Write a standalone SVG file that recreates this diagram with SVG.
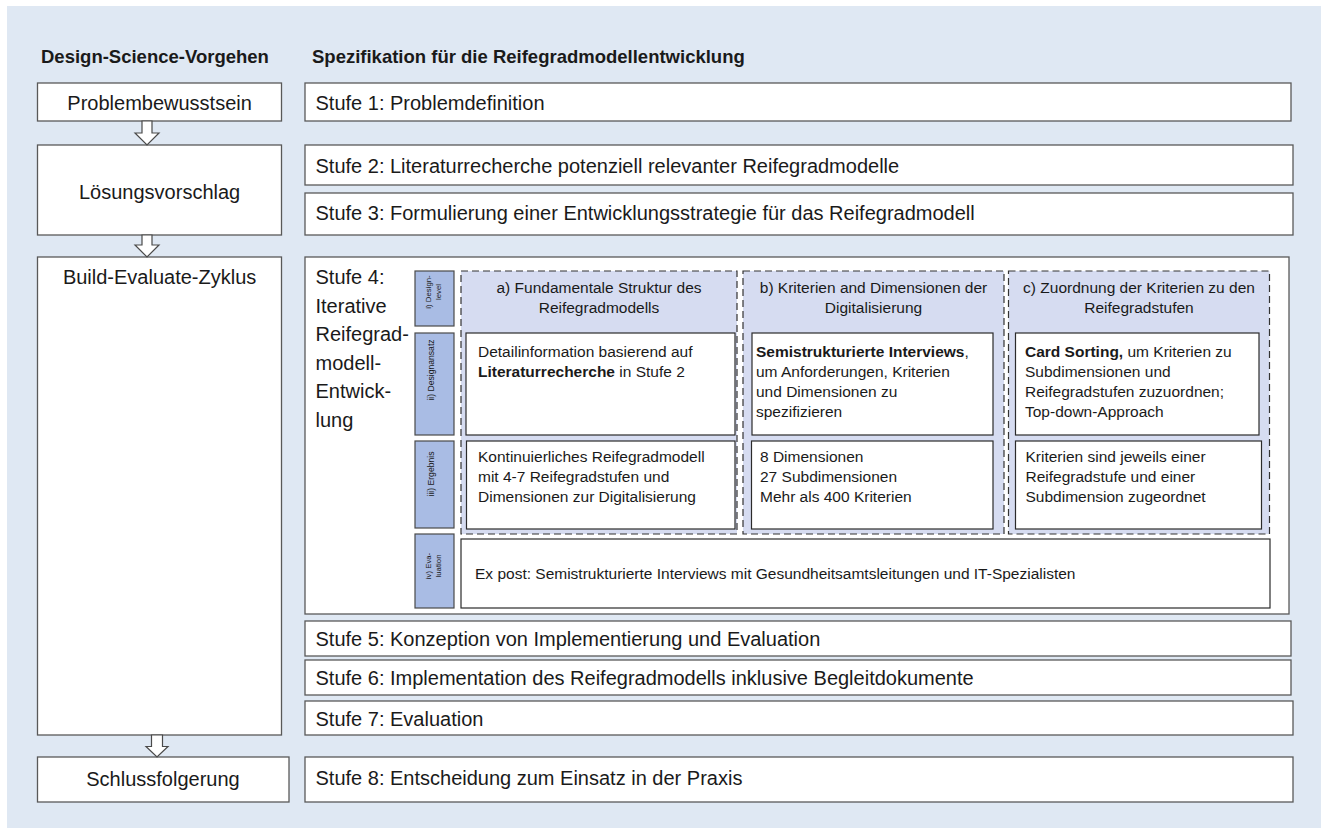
<svg xmlns="http://www.w3.org/2000/svg" width="1321" height="828" viewBox="0 0 1321 828">
<style>
.bg{fill:#dfe8f3}
.box{fill:#fff;stroke:#595959;stroke-width:1.3}
.ibox{fill:#fff;stroke:#2b2b2b;stroke-width:1.2}
.dash{fill:#d6dcf1;stroke:#333;stroke-width:1.2;stroke-dasharray:7 4}
.tab{fill:#a9bce4;stroke:#4a4a4a;stroke-width:1.2}
.arrow{fill:#fff;stroke:#4a4a4a;stroke-width:1.2}
text{font-family:"Liberation Sans",Arial,sans-serif;fill:#1a1a1a}
.h{font-size:18.5px;font-weight:bold}
.l{font-size:20px}
.s{font-size:15.5px}
.t8{font-size:8.6px}
.t7{font-size:7.8px}
.c{text-anchor:middle}
.b{font-weight:bold}
</style>
<rect class="bg" x="7" y="6" width="1314" height="822"/>
<g id="headings">
<text class="h" x="41" y="63">Design-Science-Vorgehen</text>
<text class="h" x="312" y="63">Spezifikation für die Reifegradmodellentwicklung</text>
</g>
<g id="problembewusstsein"><rect class="box" x="37.5" y="83" width="244" height="38"/><text class="l c" x="159.6" y="110">Problembewusstsein</text></g>
<g id="loesungsvorschlag"><rect class="box" x="37.5" y="145" width="244" height="90"/><text class="l c" x="159.6" y="199">Lösungsvorschlag</text></g>
<g id="build-evaluate"><rect class="box" x="37.5" y="257" width="244" height="478"/><text class="l c" x="159.6" y="284">Build-Evaluate-Zyklus</text></g>
<g id="schlussfolgerung"><rect class="box" x="37.5" y="757" width="251.5" height="45"/><text class="l c" x="163" y="786">Schlussfolgerung</text></g>
<g id="connectors">
<path class="arrow" d="M142,121 V133 H135 L147,145 L159,133 H152 V121 Z"/>
<path class="arrow" d="M142,235 V245 H135 L147,257 L159,245 H152 V235 Z"/>
<path class="arrow" d="M151.5,735 V746.5 H146 L157,757 L168,746.5 H162.5 V735 Z"/>
</g>
<g id="stufe1"><rect class="box" x="305" y="83" width="986" height="38"/><text class="l" x="315.5" y="110">Stufe 1: Problemdefinition</text></g>
<g id="stufe2"><rect class="box" x="305" y="145" width="988" height="40"/><text class="l" x="315.5" y="172.5">Stufe 2: Literaturrecherche potenziell relevanter Reifegradmodelle</text></g>
<g id="stufe3"><rect class="box" x="305" y="193" width="988" height="42"/><text class="l" x="315.5" y="220">Stufe 3: Formulierung einer Entwicklungsstrategie für das Reifegradmodell</text></g>
<g id="stufe4">
<rect class="box" x="305" y="257" width="984" height="357"/>
<text class="l" x="315.5" y="284">Stufe 4:</text>
<text class="l" x="315.5" y="313">Iterative</text>
<text class="l" x="315.5" y="341">Reifegrad-</text>
<text class="l" x="315.5" y="370">modell-</text>
<text class="l" x="315.5" y="398">Entwick-</text>
<text class="l" x="315.5" y="427">lung</text>
</g>
<g id="tab-designlevel"><rect class="tab" x="415" y="271" width="39" height="55"/>
<text class="t7 c" transform="translate(431,292) rotate(-90)">i) Design-</text>
<text class="t7 c" transform="translate(440.5,292) rotate(-90)">level</text></g>
<g id="tab-designansatz"><rect class="tab" x="415" y="333" width="39" height="102"/>
<text class="t8 c" transform="translate(434,370) rotate(-90)">ii) Designansatz</text></g>
<g id="tab-ergebnis"><rect class="tab" x="415" y="441" width="39" height="87"/>
<text class="t8 c" transform="translate(434,474) rotate(-90)">iii) Ergebnis</text></g>
<g id="tab-evaluation"><rect class="tab" x="415" y="534" width="39" height="74"/>
<text class="t7 c" transform="translate(431,566) rotate(-90)">iv) Eva-</text>
<text class="t7 c" transform="translate(441,566) rotate(-90)">luation</text></g>
<g id="col-a">
<rect class="dash" x="461" y="271" width="276" height="263"/>
<text class="s c" x="599" y="292.5">a) Fundamentale Struktur des</text>
<text class="s c" x="599" y="313">Reifegradmodells</text>
<rect class="ibox" x="466" y="333" width="269" height="102"/>
<text class="s" x="478" y="357">Detailinformation basierend auf</text>
<text class="s" x="478" y="377"><tspan class="b">Literaturrecherche</tspan> in Stufe 2</text>
<rect class="ibox" x="466.5" y="441" width="268.5" height="88"/>
<text class="s" x="478" y="462">Kontinuierliches Reifegradmodell</text>
<text class="s" x="478" y="482">mit 4-7 Reifegradstufen und</text>
<text class="s" x="478" y="502">Dimensionen zur Digitalisierung</text>
</g>
<g id="col-b">
<rect class="dash" x="743" y="271" width="261" height="263"/>
<text class="s c" x="873.5" y="292.5">b) Kriterien and Dimensionen der</text>
<text class="s c" x="873.5" y="313">Digitalisierung</text>
<rect class="ibox" x="752" y="333" width="241" height="102"/>
<text class="s" x="756" y="357"><tspan class="b">Semistrukturierte Interviews</tspan>,</text>
<text class="s" x="756" y="377">um Anforderungen, Kriterien</text>
<text class="s" x="756" y="397">und Dimensionen zu</text>
<text class="s" x="756" y="417">spezifizieren</text>
<rect class="ibox" x="751.5" y="441" width="241.5" height="88"/>
<text class="s" x="760" y="462">8 Dimensionen</text>
<text class="s" x="760" y="482">27 Subdimensionen</text>
<text class="s" x="760" y="502">Mehr als 400 Kriterien</text>
</g>
<g id="col-c">
<rect class="dash" x="1008.5" y="271" width="261" height="263"/>
<text class="s c" x="1139" y="292.5">c) Zuordnung der Kriterien zu den</text>
<text class="s c" x="1139" y="313">Reifegradstufen</text>
<rect class="ibox" x="1015.5" y="333" width="243.5" height="102"/>
<text class="s" x="1025" y="357"><tspan class="b">Card Sorting,</tspan> um Kriterien zu</text>
<text class="s" x="1025" y="377">Subdimensionen und</text>
<text class="s" x="1025" y="397">Reifegradstufen zuzuordnen;</text>
<text class="s" x="1025" y="417">Top-down-Approach</text>
<rect class="ibox" x="1015.5" y="441" width="246" height="88"/>
<text class="s" x="1025.5" y="462">Kriterien sind jeweils einer</text>
<text class="s" x="1025.5" y="482">Reifegradstufe und einer</text>
<text class="s" x="1025.5" y="502">Subdimension zugeordnet</text>
</g>
<g id="evaluation">
<rect class="ibox" x="461" y="539" width="809" height="69"/>
<text class="s" x="475" y="579">Ex post: Semistrukturierte Interviews mit Gesundheitsamtsleitungen und IT-Spezialisten</text>
</g>
<g id="stufe5"><rect class="box" x="305" y="621" width="986" height="35"/><text class="l" x="315.5" y="646">Stufe 5: Konzeption von Implementierung und Evaluation</text></g>
<g id="stufe6"><rect class="box" x="305" y="660" width="986" height="35"/><text class="l" x="315.5" y="685">Stufe 6: Implementation des Reifegradmodells inklusive Begleitdokumente</text></g>
<g id="stufe7"><rect class="box" x="305" y="701" width="988" height="34"/><text class="l" x="315.5" y="725.5">Stufe 7: Evaluation</text></g>
<g id="stufe8"><rect class="box" x="305" y="757" width="988" height="45"/><text class="l" x="315.5" y="785">Stufe 8: Entscheidung zum Einsatz in der Praxis</text></g>
</svg>
